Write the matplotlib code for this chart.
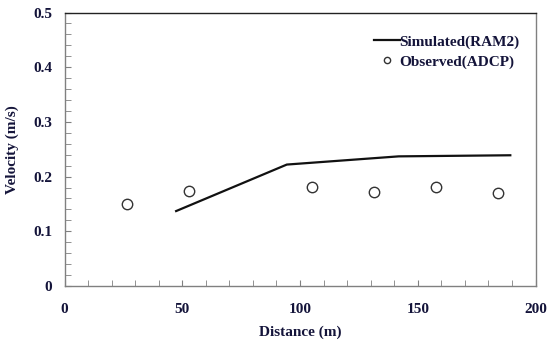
import matplotlib
matplotlib.use("Agg")
import matplotlib.pyplot as plt
from matplotlib.ticker import MultipleLocator
from matplotlib.lines import Line2D

sim_x = [47.4, 94.4, 141.9, 189.3]
sim_y = [0.137, 0.222, 0.237, 0.239]
obs_x = [26.7, 52.7, 105.3, 131.3, 157.6, 183.9]
obs_y = [0.149, 0.173, 0.181, 0.172, 0.181, 0.170]
x_ticks = [0, 50, 100, 150, 200]
y_ticks = [0, 0.1, 0.2, 0.3, 0.4, 0.5]
y_tick_labels = ['0', '0.1', '0.2', '0.3', '0.4', '0.5']

txt = '#14143a'
plt.rcParams['font.family'] = ['Liberation Serif', 'DejaVu Serif']
plt.rcParams['font.weight'] = 'bold'

fig = plt.figure(figsize=(5.47, 3.47), dpi=100)
ax = fig.add_axes([64.5/547, 1-286/347, (535.5-64.5)/547, (286-12.5)/347])

ax.plot(sim_x, sim_y, color='#111111', lw=1.6)
ax.plot(obs_x, obs_y, ls='none', marker='o', ms=7.5, mfc='white', mec='#333333', mew=1.0)

ax.set_xlim(0, 200)
ax.set_ylim(0, 0.5)
ax.set_xticks(x_ticks)
ax.set_xticklabels([str(v) for v in x_ticks])
ax.set_yticks(y_ticks)
ax.set_yticklabels(y_tick_labels)
ax.xaxis.set_minor_locator(MultipleLocator(10))
ax.yaxis.set_minor_locator(MultipleLocator(0.02))

ax.tick_params(which='both', direction='in', color='#808080', labelcolor=txt, labelsize=11)
ax.tick_params(which='major', length=4)
ax.tick_params(which='minor', length=4)
ax.tick_params(axis='x', pad=12)
ax.tick_params(axis='y', pad=9)
for lab in ax.get_xticklabels() + ax.get_yticklabels():
    lab.set_fontweight('bold')
for s in ax.spines.values():
    s.set_color('#808080')
    s.set_linewidth(1.0)
ax.spines['top'].set_color('#222222')

ax.set_xlabel('Distance (m)', fontsize=11, fontweight='bold', color=txt)
ax.xaxis.set_label_coords(0.5, -(326-286)/273.5)
ax.set_ylabel('Velocity (m/s)', fontsize=11, fontweight='bold', color=txt)
ax.yaxis.set_label_coords(-(64.5-19)/471, 0.5)

handles = [Line2D([], [], color='#111111', lw=1.6),
           Line2D([], [], ls='none', marker='o', ms=4.5, mfc='white', mec='#333333', mew=1.0)]
leg = ax.legend(handles, ['Simulated(RAM2)', 'Observed(ADCP)'], loc='upper left',
                bbox_to_anchor=(0.645, 0.94), borderaxespad=0, frameon=False,
                handlelength=1.65, handletextpad=0.0, labelspacing=0.4,
                prop={'weight': 'bold', 'size': 11})
for t in leg.get_texts():
    t.set_color(txt)

fig.savefig('out.png', dpi=100)
